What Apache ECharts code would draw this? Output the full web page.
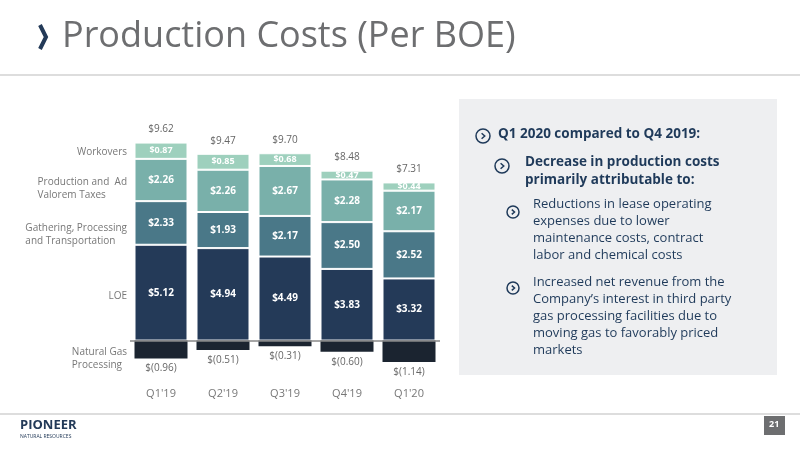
<!DOCTYPE html>
<html><head><meta charset="utf-8">
<script src="https://cdn.jsdelivr.net/npm/echarts@6/dist/echarts.min.js"></script>
<style>html,body{margin:0;padding:0;background:#fff}#c{width:800px;height:450px}</style>
</head><body><div id="c"></div>
<script>
var quarters = ["Q1'19", "Q2'19", "Q3'19", "Q4'19", "Q1'20"];
var loe = [5.12, 4.94, 4.49, 3.83, 3.32];
var gathering = [2.33, 1.93, 2.17, 2.50, 2.52];
var prodTaxes = [2.26, 2.26, 2.67, 2.28, 2.17];
var workovers = [0.87, 0.85, 0.68, 0.47, 0.44];
var gasProcessing = [-0.96, -0.51, -0.31, -0.60, -1.14];
var totals = [9.62, 9.47, 9.70, 8.48, 7.31];

var font = "'Open Sans', 'DejaVu Sans', sans-serif";
function money(v) {
    return v < 0 ? '$(' + (-v).toFixed(2) + ')' : '$' + v.toFixed(2);
}
function seg(name, data, color) {
    return {
        name: name, type: 'bar', stack: 'cost', data: data, barWidth: 53,
        itemStyle: { color: color, borderColor: '#fff', borderWidth: 1 },
        label: { show: true, position: 'inside', color: '#fff', fontSize: 10, fontWeight: 'bold', fontFamily: font,
            formatter: function (p) { return money(p.value); } }
    };
}
var series = [
    seg('LOE', loe, '#243a58'),
    seg('Gathering', gathering, '#4a7888'),
    seg('Production', prodTaxes, '#79b0aa'),
    seg('Workovers', workovers, '#9ed0bd'),
    {
        name: 'Total', type: 'bar', stack: 'cost', data: totals.map(function () { return 0; }),
        itemStyle: { color: 'transparent' },
        label: { show: true, position: 'top', distance: 8, color: '#666', fontSize: 10, fontFamily: font,
            formatter: function (p) { return money(totals[p.dataIndex]); } }
    },
    {
        name: 'Natural Gas Processing', type: 'bar', stack: 'cost', data: gasProcessing,
        itemStyle: { color: '#1b2430' },
        label: { show: true, position: 'bottom', distance: 5, color: '#666', fontSize: 10, fontFamily: font,
            formatter: function (p) { return money(p.value); } },
        markLine: { symbol: 'none', silent: true, label: { show: false },
            lineStyle: { color: '#888', width: 1.5, type: 'solid' }, data: [{ yAxis: 0 }] }
    }
];
series[3].label.fontSize = 9;
series[3].label.padding = 0;

function txt(x, y, s, opt) {
    return { type: 'text', left: x, top: y, style: Object.assign({ text: s, font: '11px ' + font, fill: '#1f3a5a' }, opt || {}) };
}
function bullet(cx, cy, r) {
    return [
        { type: 'circle', shape: { cx: cx, cy: cy, r: r }, style: { fill: 'none', stroke: '#1f3a5a', lineWidth: 1.5 } },
        { type: 'polyline', shape: { points: [[cx - r * 0.2, cy - r * 0.4], [cx + r * 0.25, cy], [cx - r * 0.2, cy + r * 0.4]] },
            style: { fill: 'none', stroke: '#1f3a5a', lineWidth: 1.5 } }
    ];
}
var sideLabels = [
    ['Workovers', 146], ['Production and  Ad\nValorem Taxes', 176], ['Gathering, Processing\nand Transportation', 222],
    ['LOE', 290], ['Natural Gas\nProcessing', 346]
];
var graphics = [
    { type: 'polyline', shape: { points: [[40, 25], [46, 37], [40, 49]] }, style: { fill: 'none', stroke: '#233a58', lineWidth: 4 } },
    { type: 'text', left: 62, top: 19, style: { text: 'Production Costs (Per BOE)', font: '36px ' + font, fill: '#6d6e70' } },
    { type: 'line', shape: { x1: 0, y1: 75, x2: 800, y2: 75 }, style: { stroke: '#bbb', lineWidth: 1 } },
    { type: 'line', shape: { x1: 0, y1: 414, x2: 800, y2: 414 }, style: { stroke: '#bbb', lineWidth: 1 } },
    { type: 'rect', shape: { x: 459, y: 99, width: 318, height: 276 }, style: { fill: '#eeeff1' } },
    { type: 'rect', shape: { x: 764, y: 416, width: 21, height: 19 }, style: { fill: '#6d6e70' } },
    txt(769, 420, '21', { font: 'bold 9px ' + font, fill: '#fff' }),
    txt(20, 419, 'PIONEER', { font: 'bold 13px ' + font, fill: '#233a58' }),
    txt(20, 434, 'NATURAL RESOURCES', { font: '5px ' + font, fill: '#233a58' }),
    txt(498, 127, 'Q1 2020 compared to Q4 2019:', { font: 'bold 13.5px ' + font }),
    txt(525, 153, 'Decrease in production costs\nprimarily attributable to:', { font: 'bold 13.5px ' + font, lineHeight: 18 }),
    txt(533, 196, 'Reductions in lease operating\nexpenses due to lower\nmaintenance costs, contract\nlabor and chemical costs', { font: '13px ' + font, lineHeight: 17 }),
    txt(533, 274, 'Increased net revenue from the\nCompany\u2019s interest in third party\ngas processing facilities due to\nmoving gas to favorably priced\nmarkets', { font: '13px ' + font, lineHeight: 17 })
].concat(bullet(483, 136, 7), bullet(502, 166, 7), bullet(513, 212, 6), bullet(513, 288, 6));
sideLabels.forEach(function (l) {
    graphics.push({ type: 'text', right: 673, top: l[1], style: { text: l[0], font: '10px ' + font, fill: '#777', align: 'right', lineHeight: 13 } });
});

var chart = echarts.init(document.getElementById('c'));
chart.setOption({
    animation: false,
    grid: { left: 130, width: 310, top: 116, height: 262 },
    xAxis: {
        type: 'category', data: quarters,
        axisLine: { show: false, onZero: false }, axisTick: { show: false },
        axisLabel: { color: '#777', fontSize: 11, fontFamily: font, margin: 10 }
    },
    yAxis: { type: 'value', min: -2, max: 12, show: false, splitLine: { show: false } },
    series: series,
    graphic: graphics
});
</script></body></html>
